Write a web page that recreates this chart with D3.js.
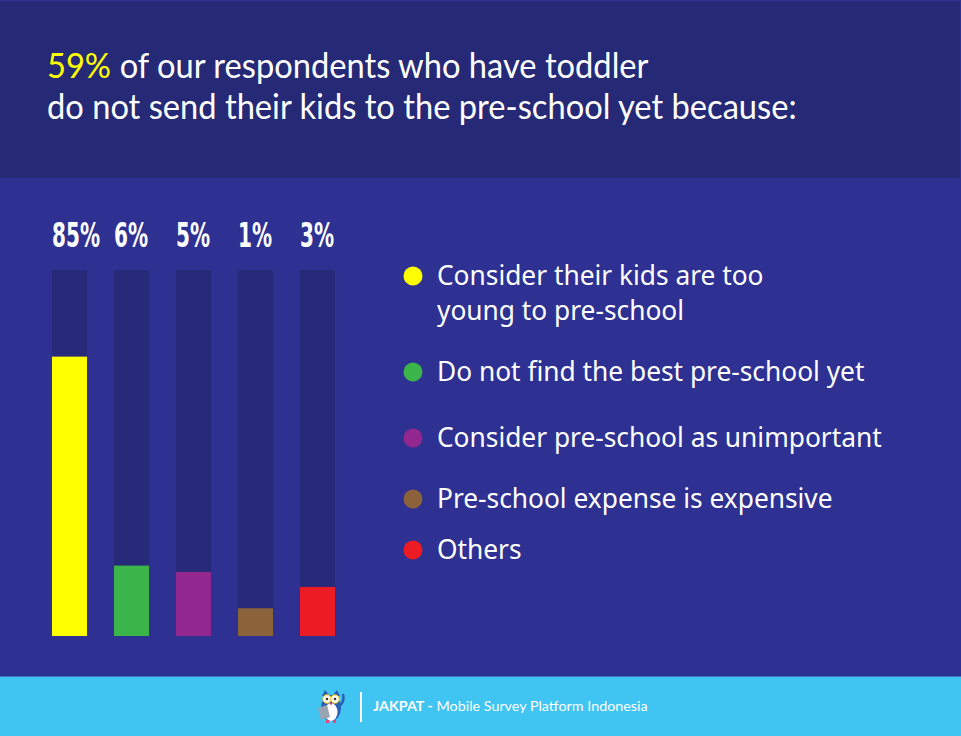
<!DOCTYPE html>
<html>
<head>
<meta charset="utf-8">
<script src="https://cdn.jsdelivr.net/npm/d3@7"></script>
<style>
  body { margin: 0; background: #2e3192; }
  svg { display: block; }
</style>
</head>
<body>
<script>
const WIDTH = 961
const HEIGHT = 736

// Données
const categories = [
  "Consider their kids are too young to pre-school",
  "Do not find the best pre-school yet",
  "Consider pre-school as unimportant",
  "Pre-school expense is expensive",
  "Others"
]
const values = [85, 6, 5, 1, 3]
const valueLabels = ["85%", "6%", "5%", "1%", "3%"]
const legendLines = [
  ["Consider their kids are too", "young to pre-school"],
  ["Do not find the best pre-school yet"],
  ["Consider pre-school as unimportant"],
  ["Pre-school expense is expensive"],
  ["Others"]
]
const colors = ["#ffff00", "#3bb54a", "#92278f", "#8b6239", "#ed1c24"]

const svg = d3.select("body").append("svg")
    .attr("width", WIDTH)
    .attr("height", HEIGHT)

// Fonds
svg.append("rect").attr("width", WIDTH).attr("height", HEIGHT).attr("fill", "#2e3192")
svg.append("rect").attr("x", 0).attr("y", 1).attr("width", 960).attr("height", 177).attr("fill", "#262a76")
svg.append("rect").attr("x", 0).attr("y", 677).attr("width", WIDTH).attr("height", 59).attr("fill", "#40c4f2")
svg.append("rect").attr("x", 0).attr("y", 676).attr("width", WIDTH).attr("height", 1).attr("fill", "#3a73cc")

// compresse horizontalement un texte
function squeezeBy(sel, x, k) {
  sel.attr("transform", `translate(${x},0) scale(${k},1) translate(${-x},0)`)
}

// Titre
const title = svg.append("g")
    .attr("font-family", "Lato, sans-serif")
    .attr("font-size", 34)
    .attr("fill", "#ffffff")
const t2 = title.append("text").attr("x", 47).attr("y", 119)
    .text("do not send their kids to the pre-school yet because:")
const k = 750 / t2.node().getComputedTextLength()
squeezeBy(t2, 47, k)

const t1a = title.append("text").attr("x", 47).attr("y", 78)
    .attr("fill", "#ffff00")
    .text("59%")
squeezeBy(t1a, 47, k)
const x1 = 47 + (t1a.node().getComputedTextLength() + 9) * k
const t1b = title.append("text").attr("x", x1).attr("y", 78)
    .text("of our respondents who have toddler")
squeezeBy(t1b, x1, k)

// Barres
const x = d3.scaleBand()
    .domain(categories)
    .range([52, 335])
    .paddingInner(0.435)

const trackTop = 270
const trackBottom = 636
const h = d3.scalePow().exponent(0.52)
    .domain([0, 100])
    .range([0, 304])

const bars = svg.append("g")

bars.selectAll(".track")
    .data(categories)
    .enter()
    .append("rect")
    .attr("class", "track")
    .attr("x", d => x(d))
    .attr("y", trackTop)
    .attr("width", x.bandwidth())
    .attr("height", trackBottom - trackTop)
    .attr("fill", "#262a78")

bars.selectAll(".bar")
    .data(values)
    .enter()
    .append("rect")
    .attr("class", "bar")
    .attr("x", (d, i) => x(categories[i]))
    .attr("y", d => trackBottom - h(d))
    .attr("width", x.bandwidth())
    .attr("height", d => h(d))
    .attr("fill", (d, i) => colors[i])

const labels = bars.selectAll(".lab")
    .data(valueLabels)
    .enter()
    .append("text")
    .attr("class", "lab")
    .attr("x", (d, i) => x(categories[i]))
    .attr("y", 247)
    .attr("font-family", "'Liberation Sans Narrow', 'DejaVu Sans Condensed', sans-serif")
    .attr("font-weight", "bold")
    .attr("font-size", 33)
    .attr("fill", "#ffffff")
    .text(d => d)
const lk = 48 / labels.nodes()[0].getComputedTextLength()
labels.attr("transform", (d, i) => {
  const x0 = x(categories[i])
  return `translate(${x0},0) scale(${lk},1) translate(${-x0},0)`
})

// Légende
const legendY = [276, 372, 438, 499, 550]
const legend = svg.append("g")
    .attr("font-family", "'Noto Sans', sans-serif")
    .attr("font-size", 28)
    .attr("fill", "#ffffff")

const items = legend.selectAll("g")
    .data(legendLines)
    .enter()
    .append("g")
    .attr("transform", (d, i) => `translate(0,${legendY[i]})`)

items.append("circle")
    .attr("cx", 413)
    .attr("cy", 0)
    .attr("r", 9.5)
    .attr("fill", (d, i) => colors[i])

const legText = items.append("text")
    .attr("x", 437)
    .attr("y", 9)
legText.selectAll("tspan")
    .data(d => d)
    .enter()
    .append("tspan")
    .attr("x", 437)
    .attr("dy", (d, j) => j === 0 ? 0 : 35)
    .text(d => d)

const gk = 445 / legText.nodes()[2].getComputedTextLength()
squeezeBy(legText, 437, gk)

// Pied de page
const footer = svg.append("g")

// hibou
const owl = footer.append("g").attr("transform", "translate(331,706)")
owl.append("ellipse").attr("cx", 0).attr("cy", 2).attr("rx", 10).attr("ry", 13).attr("fill", "#2b5fb4")
owl.append("ellipse").attr("cx", 0).attr("cy", 6).attr("rx", 6.5).attr("ry", 9).attr("fill", "#ffffff")
owl.append("path").attr("d", "M-9,-10 L-6,-16 L-2,-11 L2,-11 L6,-16 L9,-10 Z").attr("fill", "#2b5fb4")
owl.append("circle").attr("cx", -4).attr("cy", -7).attr("r", 4.2).attr("fill", "#ffffff").attr("stroke", "#f5c400").attr("stroke-width", 1)
owl.append("circle").attr("cx", 4).attr("cy", -7).attr("r", 4.2).attr("fill", "#ffffff").attr("stroke", "#f5c400").attr("stroke-width", 1)
owl.append("circle").attr("cx", -4).attr("cy", -7).attr("r", 1.3).attr("fill", "#333333")
owl.append("circle").attr("cx", 4).attr("cy", -7).attr("r", 1.3).attr("fill", "#333333")
owl.append("path").attr("d", "M-1.5,-3 L1.5,-3 L0,-0.5 Z").attr("fill", "#e8457a")
owl.append("path").attr("d", "M-13,2 L-4,-1 L-1,11 L-10,14 Z").attr("fill", "#9aa3b3")
owl.append("path").attr("d", "M8,0 Q14,-4 12,-12").attr("fill", "none").attr("stroke", "#2b5fb4").attr("stroke-width", 2.5)
owl.append("rect").attr("x", -5).attr("y", 14).attr("width", 3).attr("height", 3).attr("fill", "#e8457a")
owl.append("rect").attr("x", 2).attr("y", 14).attr("width", 3).attr("height", 3).attr("fill", "#e8457a")

footer.append("rect").attr("x", 360).attr("y", 692).attr("width", 2).attr("height", 30).attr("fill", "#ffffff")

const ft = footer.append("text")
    .attr("x", 373)
    .attr("y", 711)
    .attr("font-family", "Lato, sans-serif")
    .attr("font-size", 14)
    .attr("fill", "#ffffff")
ft.append("tspan").attr("font-weight", "bold").text("JAKPAT -")
ft.append("tspan").text(" Mobile Survey Platform Indonesia")
squeezeBy(ft, 373, 275 / ft.node().getComputedTextLength())
</script>
</body>
</html>
